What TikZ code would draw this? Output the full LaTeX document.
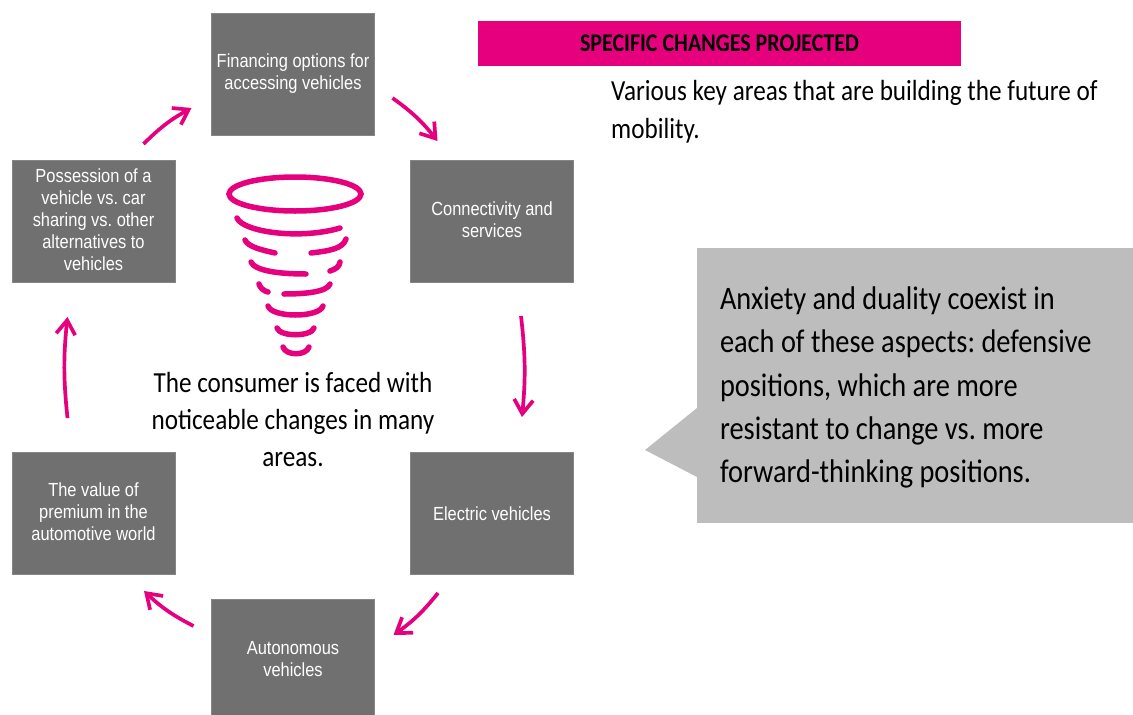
\documentclass[tikz,border=0pt]{standalone}
\usepackage{fontspec}
\setmainfont[FakeStretch=0.865]{Carlito}
\newfontfamily\boxfont[FakeStretch=0.865]{Liberation Sans}
\usetikzlibrary{arrows.meta}
\definecolor{funnelpink}{HTML}{E6007E}
\definecolor{boxgray}{HTML}{707070}
\definecolor{calloutgray}{HTML}{BDBDBD}
\frenchspacing

\begin{document}
\begin{tikzpicture}[x=1pt, y=-1pt,
        stagebox/.style=
            {
                rectangle,
                fill = boxgray,
                draw = boxgray!85!white,
                text = white,
                inner sep = 0pt,
                outer sep = 0pt,
                minimum width = 163pt,
                minimum height = 122pt,
                align = center,
                execute at begin node = \rule{0pt}{18pt},
                execute at end node = \rule[-3pt]{0pt}{3pt},
                font = \boxfont\fontsize{19}{22}\selectfont
            },
        title/.style=
            {
                rectangle,
                fill = funnelpink,
                inner sep = 0pt,
                minimum width = 483pt,
                minimum height = 45pt,
                font = \bfseries\fontsize{25.4}{28}\selectfont
            },
        callout/.style=
            {
                rectangle,
                fill = calloutgray,
                inner xsep = 23pt,
                inner ysep = 0pt,
                outer sep = 0pt,
                minimum height = 275pt,
                text width = 390pt,
                align = flush left,
                execute at begin node = \rule{0pt}{27pt},
                font = \fontsize{32.8}{43.2}\selectfont
            },
        plaintext/.style=
            {
                inner sep = 0pt,
                font = \fontsize{29.1}{37}\selectfont
            },
        flow/.style=
            {
                draw = funnelpink,
                line width = 3.7pt,
                -{Straight Barb[length=14pt,width=19pt]}
            },
        funnelline/.style=
            {
                draw = funnelpink,
                line width = 5.5pt,
                line cap = round
            }
    ]

    \useasboundingbox (0,0) rectangle (1133,715);

    % stages
    \draw (293,74) node[stagebox] (financing) {Financing options for\\accessing vehicles};
    \draw (492,221) node[stagebox] (connectivity) {Connectivity and\\services};
    \draw (492,513) node[stagebox] (electric) {Electric vehicles};
    \draw (293,660) node[stagebox] (autonomous) {Autonomous\\vehicles};
    \draw (93.5,513) node[stagebox] (premium) {The value of\\premium in the\\automotive world};
    \draw (93.5,221) node[stagebox] (possession) {Possession of a\\vehicle vs. car\\sharing vs. other\\alternatives to\\vehicles};

    \draw[flow] ([shift={(50,-16)}]possession.north) to[bend left=8] ([shift={(-20,34)}]financing.west);
    \draw[flow] ([shift={(18,24)}]financing.east) to[bend left=8] ([shift={(-54.5,-19)}]connectivity.north);
    \draw[flow] ([shift={(29,34)}]connectivity.south) to[bend left=6] ([shift={(30,-35)}]electric.north);
    \draw[flow] ([shift={(-54,19)}]electric.south) to[bend left=8] ([shift={(19,-25)}]autonomous.east);
    \draw[flow] ([shift={(-18,-34)}]autonomous.west) to[bend left=8] ([shift={(50.5,17)}]premium.south);
    \draw[flow] ([shift={(-26,-34)}]premium.north) to[bend left=6] ([shift={(-26,35)}]possession.south);

    % funnel
    \draw[funnelline] (295,194) ellipse [x radius=66, y radius=17];
    \draw[funnelline] (237,218) .. controls (243,232) and (300,240) .. (340,228);
    \draw[funnelline] (245,240) .. controls (248,247) and (262,250) .. (275,253);
    \draw[funnelline] (311,253) .. controls (328,251) and (343,249) .. (346,239);
    \draw[funnelline] (251,262) .. controls (255,271) and (280,274) .. (306,274);
    \draw[funnelline] (330,271) .. controls (336,269) and (339,267) .. (340,262);
    \draw[funnelline] (259,284) .. controls (260,288) and (264,291) .. (268,292);
    \draw[funnelline] (284,294) .. controls (305,294) and (327,292) .. (330,284);
    \draw[funnelline] (268,306) .. controls (272,318) and (319,318) .. (323,306);
    \draw[funnelline] (277,328) .. controls (280,337) and (311,337) .. (314,328);
    \draw[funnelline] (283,347) .. controls (286,356) and (306,356) .. (309,347);

    \draw (293,420) node[plaintext, align=center] (consumer) {The consumer is faced with\\noticeable changes in many\\areas.};

    % right side
    \draw (719.5,43.5) node[title] (heading) {SPECIFIC CHANGES PROJECTED};
    \draw (611,80) node[plaintext, anchor=north west, align=left, font=\fontsize{29.1}{38}\selectfont] (areas) {Various key areas that are building the future of\\mobility.};

    \draw (915,385.5) node[callout] (anxiety) {Anxiety and duality coexist in\\each of these aspects: defensive\\positions, which are more\\resistant to change vs. more\\forward-thinking positions.};
    \coordinate (pointer) at (645,450);
    \fill[calloutgray] ([shift={(0,22.5)}]anxiety.west) -- (pointer) -- ([shift={(0,91.5)}]anxiety.west) -- cycle;

\end{tikzpicture}
\end{document}
